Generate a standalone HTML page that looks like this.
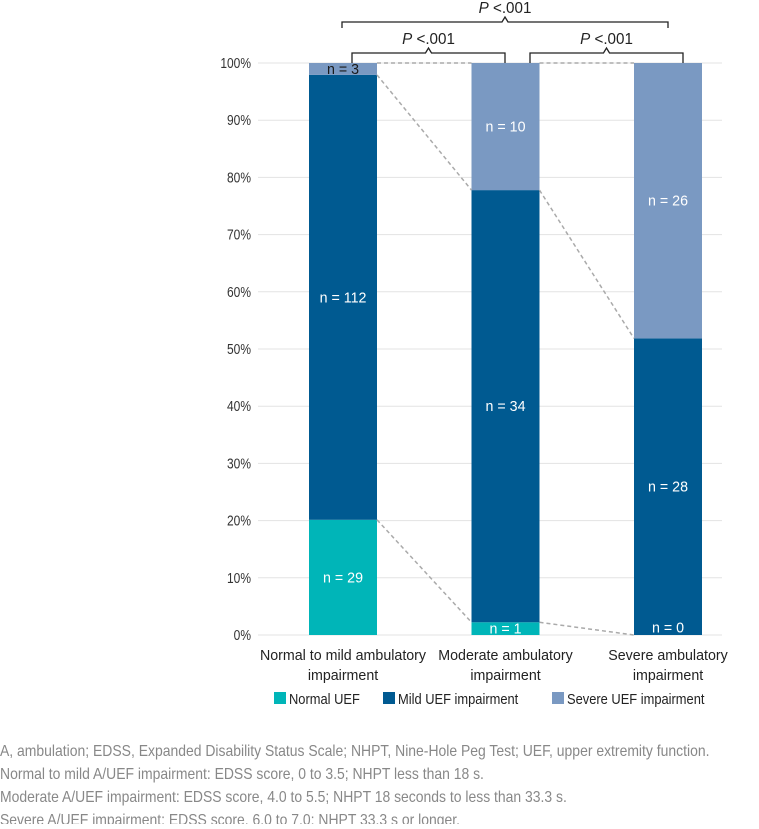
<!DOCTYPE html>
<html><head><meta charset="utf-8"><style>
body{margin:0;background:#fff;}
svg text{font-family:"Liberation Sans Narrow","Liberation Sans",sans-serif;}
</style></head><body>
<svg id="c" width="759" height="824"></svg>
<script>
const categories=[["Normal to mild ambulatory","impairment"],["Moderate ambulatory","impairment"],["Severe ambulatory","impairment"]];
const normalN=[29,1,0];
const mildN=[112,34,28];
const severeN=[3,10,26];
const seriesNames=["Normal UEF","Mild UEF impairment","Severe UEF impairment"];
const yTicks=[0,10,20,30,40,50,60,70,80,90,100];
const NS="http://www.w3.org/2000/svg";
const svg=document.getElementById('c');
function el(t,a,p){const e=document.createElementNS(NS,t);for(const k in a)e.setAttribute(k,a[k]);(p||svg).appendChild(e);return e;}
function txt(x,yy,s,a){const t=el('text',Object.assign({x:0,y:0,transform:`translate(${x},${yy}) scale(${s},1)`},a));return t;}
function y(v){return 635-v*5.72;}
function xc(i){return 343+i*162.5;}
function colors(){return ["#00b5b8","#005a91","#7a99c2"];}
const bw=68;
yTicks.forEach(t=>{
  const g=el('line',{x1:258,x2:722,y1:y(t),y2:y(t),stroke:'#e3e3e3','stroke-width':1});
  
  
  const tx=txt(251,y(t)+5,0.8,{'text-anchor':'end','font-size':15,fill:'#333'});
  tx.textContent=t+'%';
  
  
});
const series=[normalN,mildN,severeN];
const tops=[];
const labels=[];
categories.forEach((c,i)=>{
  const tot=normalN[i]+mildN[i]+severeN[i];
  let acc=0;const t=[];
  series.forEach((s,j)=>{
    const p=s[i]/tot*100;
    const r=el('rect',{x:xc(i)-bw/2,y:y(acc+p),width:bw,height:y(acc)-y(acc+p),fill:colors()[j]});
    
    
    const mid=(p<5&&j==0&&i==2)?acc+p/2+1.3:acc+p/2;
    labels.push([xc(i),y(mid)+5,j==2&&i==0?'#1a1a1a':'#fff','n = '+s[i]]);
    acc+=p;t.push(acc);
  });
  tops.push(t);
  c.forEach((ln,k)=>{
    const tx=txt(xc(i),660+k*20,0.95,{'text-anchor':'middle','font-size':15,fill:'#222'});
    tx.textContent=ln;
    
    
  });
});
for(let i=0;i<2;i++){
  for(let j=0;j<3;j++){
    const l=el('line',{x1:xc(i)+bw/2,y1:y(tops[i][j]),x2:xc(i+1)-bw/2,y2:y(tops[i+1][j]),stroke:'#aaa','stroke-width':1.5,'stroke-dasharray':'4,3'});
    
    
  }
}
labels.forEach(L=>{
  const tx=txt(L[0],L[1],0.95,{'text-anchor':'middle','font-size':15,fill:L[2]});
  tx.textContent=L[3];
  
  
});
function bracket(x1,x2,yb,yd){
  const m=(x1+x2)/2;
  const p=el('path',{d:`M${x1},${yd} V${yb} H${m-3} L${m},${yb-5} L${m+3},${yb} H${x2} V${yd}`,fill:'none',stroke:'#222','stroke-width':1.3});
  
  
  const t=txt(m,yb-9,0.95,{'text-anchor':'middle','font-size':16,fill:'#222'});
  t.innerHTML='<tspan font-style="italic">P</tspan> &lt;.001';
  
  
}
bracket(342,668,22,28);
bracket(352,505,53,63);
bracket(530,683,53,63);
const lx=[274,383,552];
seriesNames.forEach((n,j)=>{
  const r=el('rect',{x:lx[j],y:692,width:12,height:12,fill:colors()[j]});
  
  
  const t=txt(lx[j]+15,704,0.86,{'font-size':15,fill:'#222'});
  t.textContent=n;
  
  
});
const notes=["A, ambulation; EDSS, Expanded Disability Status Scale; NHPT, Nine-Hole Peg Test; UEF, upper extremity function.","Normal to mild A/UEF impairment: EDSS score, 0 to 3.5; NHPT less than 18 s.","Moderate A/UEF impairment: EDSS score, 4.0 to 5.5; NHPT 18 seconds to less than 33.3 s.","Severe A/UEF impairment: EDSS score, 6.0 to 7.0; NHPT 33.3 s or longer."];
notes.forEach((n,k)=>{
  const t=txt(0,756+k*23,0.9,{'font-size':15.5,fill:'#888'});
  t.textContent=n;
  
  
});
</script>
</body></html>
